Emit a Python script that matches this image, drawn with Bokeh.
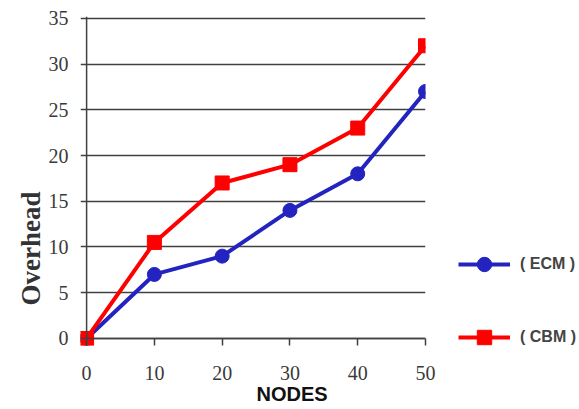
from bokeh.plotting import figure
from bokeh.models import Span, Title, Legend, LegendItem, FixedTicker, Range1d
from bokeh.embed import file_html
from bokeh.resources import INLINE

nodes = [0, 10, 20, 30, 40, 50]
ecm = [0, 7, 9, 14, 18, 27]
cbm = [0, 10.5, 17, 19, 23, 32]
series_names = ["( ECM )", "( CBM )"]
y_ticks = [0, 5, 10, 15, 20, 25, 30, 35]
x_ticks = [0, 10, 20, 30, 40, 50]
x_title = "NODES"
y_title = "Overhead"

p = figure(width=579, height=409, output_backend="svg", toolbar_location=None,
           frame_width=345, frame_height=329,
           x_range=Range1d(-0.9, 50), y_range=Range1d(-0.77, 35.2),
           min_border_left=80, min_border_top=16, min_border_right=154, min_border_bottom=64)
p.outline_line_color = None
p.background_fill_color = "white"

# axes
p.xaxis.ticker = FixedTicker(ticks=x_ticks)
p.yaxis.ticker = FixedTicker(ticks=y_ticks)
p.xaxis.axis_line_color = None
p.yaxis.axis_line_color = None
p.xaxis.major_tick_in = 7
p.xaxis.major_tick_out = 0
p.xaxis.major_tick_line_color = "#404040"
p.xaxis.major_tick_line_width = 1.5
p.xaxis.minor_tick_line_color = None
p.yaxis.major_tick_line_color = None
p.yaxis.major_tick_in = 0
p.yaxis.major_tick_out = 0
p.yaxis.minor_tick_line_color = None
for ax in (p.xaxis, p.yaxis):
    ax.major_label_text_font = "Liberation Serif"
    ax.major_label_text_font_size = "20px"
    ax.major_label_text_color = "#3a3a3a"
p.xaxis.major_label_standoff = 20
p.yaxis.major_label_standoff = 12

p.xgrid.grid_line_color = None
p.ygrid.ticker = FixedTicker(ticks=y_ticks)
p.ygrid.grid_line_color = "#404040"
p.ygrid.grid_line_width = 1.5

p.add_layout(Span(location=0, dimension="width", line_color="#404040", line_width=1.5))
p.add_layout(Span(location=0, dimension="height", line_color="#404040", line_width=1.5))

l1 = p.line(nodes, ecm, line_color="#2323c0", line_width=4)
m1 = p.scatter(nodes, ecm, marker="circle", size=14, fill_color="#2323c0", line_color="#2323c0")
l2 = p.line(nodes, cbm, line_color="#ff0000", line_width=4)
m2 = p.scatter(nodes, cbm, marker="square", size=14, fill_color="#ff0000", line_color="#ff0000")

legend = Legend(items=[LegendItem(label=series_names[0], renderers=[l1, m1]),
                       LegendItem(label=series_names[1], renderers=[l2, m2])],
                location=(33, -10), glyph_width=52, glyph_height=36, spacing=37,
                label_text_font="Liberation Sans", label_text_font_style="bold",
                label_text_font_size="16px", label_standoff=10,
                border_line_color=None, background_fill_alpha=0, padding=0, margin=0)
p.add_layout(legend, "right")

p.add_layout(Title(text=y_title, align="left", offset=40, standoff=0,
                   text_font="Liberation Serif", text_font_style="bold",
                   text_font_size="27px", text_color="#333333"), "left")
p.add_layout(Title(text=x_title, align="left", offset=176, standoff=-4,
                   text_font="Liberation Sans", text_font_style="bold",
                   text_font_size="20px", text_color="#111111"), "below")

open("out.html", "w").write(file_html(p, INLINE))
